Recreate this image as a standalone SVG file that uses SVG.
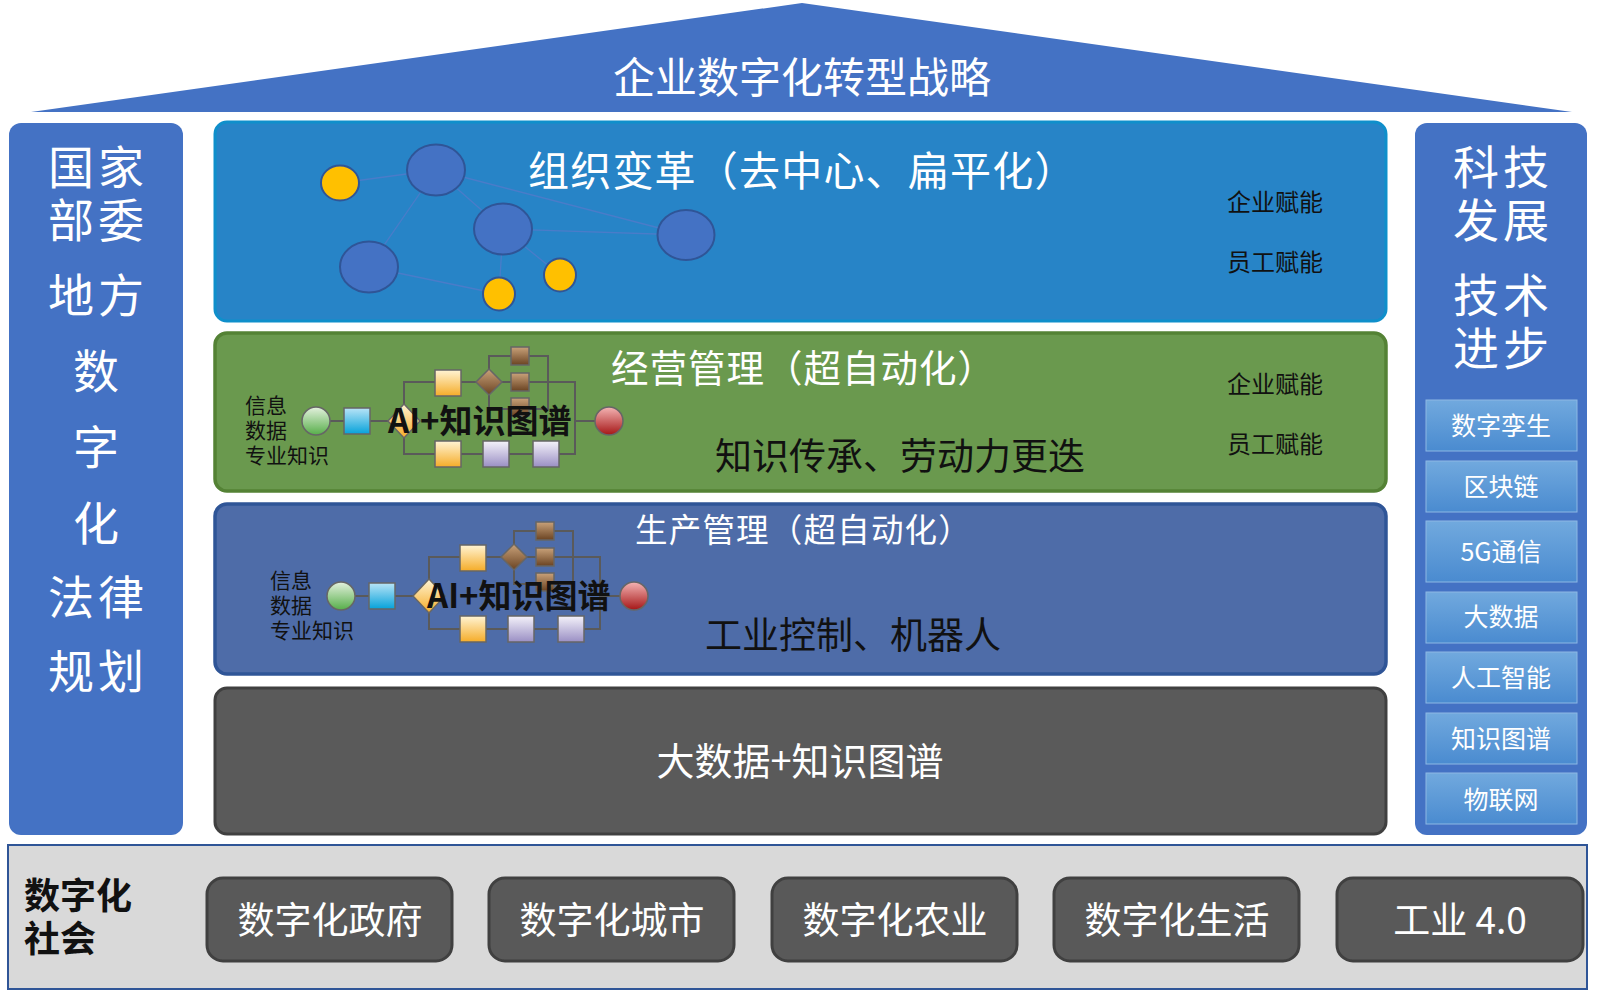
<svg xmlns="http://www.w3.org/2000/svg" width="1597" height="991" viewBox="0 0 1597 991">
<style>
text{font-family:"Noto Sans CJK SC","Noto Sans",sans-serif}
.w{fill:#fff}
.k{fill:#111}
.b{font-weight:700}
.fl{fill:none;stroke:#5a5a5a;stroke-width:2}
.sh{stroke:#666;stroke-width:1.5}
.net{stroke:#4A7CC9;stroke-width:1.3;fill:none}
.bc{fill:#4472C4;stroke:#2F5597;stroke-width:2}
.yc{fill:#FFC000;stroke:#2F5597;stroke-width:2}
.tech{fill:url(#gTech);stroke:#8DB8E4;stroke-width:1}
.btn{fill:#595959;stroke:#404040;stroke-width:3}
</style>
<defs>
<linearGradient id="gGreen" x1="0" y1="0" x2="0" y2="1"><stop offset="0" stop-color="#E4F1DE"/><stop offset="1" stop-color="#56AE49"/></linearGradient>
<linearGradient id="gBlue" x1="0" y1="0" x2="0" y2="1"><stop offset="0" stop-color="#B8E4F7"/><stop offset="1" stop-color="#06A2DA"/></linearGradient>
<linearGradient id="gOrange" x1="0" y1="0" x2="0" y2="1"><stop offset="0" stop-color="#FFF4D4"/><stop offset="1" stop-color="#F5AC28"/></linearGradient>
<linearGradient id="gBrown" x1="0" y1="0" x2="0" y2="1"><stop offset="0" stop-color="#C9A27A"/><stop offset="1" stop-color="#6A4322"/></linearGradient>
<linearGradient id="gLav" x1="0" y1="0" x2="0" y2="1"><stop offset="0" stop-color="#F4F2FA"/><stop offset="1" stop-color="#9A8FC4"/></linearGradient>
<linearGradient id="gRed" x1="0" y1="0" x2="0" y2="1"><stop offset="0" stop-color="#F4B4B4"/><stop offset="1" stop-color="#A51616"/></linearGradient>
<linearGradient id="gTech" x1="0" y1="0" x2="0" y2="1"><stop offset="0" stop-color="#71A9DE"/><stop offset="1" stop-color="#4A8BD0"/></linearGradient>
<g id="flow">
  <path class="fl" d="M14,0H28M54,0H72M88,-17V-39H259V33H88V17M173,-52V-65H232V-12H173V-26M259,0H279"/>
  <circle class="sh" cx="0" cy="0" r="14" fill="url(#gGreen)"/>
  <rect class="sh" x="28" y="-13" width="26" height="26" fill="url(#gBlue)"/>
  <polygon class="sh" points="88,-17 104,0 88,17 72,0" fill="url(#gOrange)"/>
  <rect class="sh" x="119" y="-51" width="26" height="26" fill="url(#gOrange)"/>
  <polygon class="sh" points="173,-52 186,-39 173,-26 160,-39" fill="url(#gBrown)"/>
  <rect class="sh" x="195" y="-74" width="18" height="18" fill="url(#gBrown)"/>
  <rect class="sh" x="195" y="-48" width="18" height="18" fill="url(#gBrown)"/>
  <rect class="sh" x="195" y="-23" width="18" height="18" fill="url(#gBrown)"/>
  <rect class="sh" x="119" y="20" width="26" height="26" fill="url(#gOrange)"/>
  <rect class="sh" x="167" y="20" width="26" height="26" fill="url(#gLav)"/>
  <rect class="sh" x="217" y="20" width="26" height="26" fill="url(#gLav)"/>
  <circle class="sh" cx="293" cy="0" r="14" fill="url(#gRed)"/>
  <text class="k" x="-71" y="-8" font-size="21">信息</text>
  <text class="k" x="-71" y="17" font-size="21">数据</text>
  <text class="k" x="-71" y="42" font-size="21">专业知识</text>
</g>
</defs>

<g id="roof">
  <polygon points="31,112 802,3 1572,112" fill="#4472C4"/>
  <text class="w" x="802" y="93" font-size="42" text-anchor="middle">企业数字化转型战略</text>
</g>

<g id="left-col">
  <rect x="9" y="123" width="174" height="712" rx="12" fill="#4472C4"/>
  <g class="w" font-size="46" text-anchor="middle">
    <text x="98" y="184" letter-spacing="4">国家</text>
    <text x="98" y="237" letter-spacing="4">部委</text>
    <text x="98" y="312" letter-spacing="4">地方</text>
    <text x="96" y="388">数</text>
    <text x="96" y="464">字</text>
    <text x="96" y="540">化</text>
    <text x="98" y="614" letter-spacing="4">法律</text>
    <text x="98" y="688" letter-spacing="4">规划</text>
  </g>
</g>

<g id="right-col">
  <rect x="1415" y="123" width="172" height="712" rx="12" fill="#4472C4"/>
  <g class="w" font-size="46" text-anchor="middle">
    <text x="1503" y="184" letter-spacing="4">科技</text>
    <text x="1503" y="237" letter-spacing="4">发展</text>
    <text x="1503" y="312" letter-spacing="4">技术</text>
    <text x="1503" y="365" letter-spacing="4">进步</text>
  </g>
</g>
<g id="tech-digital-twin"><rect class="tech" x="1426" y="400" width="151" height="51"/><text class="w" x="1501" y="435" font-size="25" text-anchor="middle">数字孪生</text></g>
<g id="tech-blockchain"><rect class="tech" x="1426" y="461" width="151" height="51"/><text class="w" x="1501" y="496" font-size="25" text-anchor="middle">区块链</text></g>
<g id="tech-5g"><rect class="tech" x="1426" y="521" width="151" height="61"/><text class="w" x="1501" y="561" font-size="25" text-anchor="middle">5G通信</text></g>
<g id="tech-bigdata"><rect class="tech" x="1426" y="592" width="151" height="51"/><text class="w" x="1501" y="626" font-size="25" text-anchor="middle">大数据</text></g>
<g id="tech-ai"><rect class="tech" x="1426" y="652" width="151" height="51"/><text class="w" x="1501" y="687" font-size="25" text-anchor="middle">人工智能</text></g>
<g id="tech-kg"><rect class="tech" x="1426" y="713" width="151" height="51"/><text class="w" x="1501" y="748" font-size="25" text-anchor="middle">知识图谱</text></g>
<g id="tech-iot"><rect class="tech" x="1426" y="773" width="151" height="51"/><text class="w" x="1501" y="809" font-size="25" text-anchor="middle">物联网</text></g>

<g id="layer-org">
  <rect x="215" y="122" width="1171" height="199" rx="12" fill="#2784C7" stroke="#0F8FCB" stroke-width="3"/>
  <text class="w" x="528" y="186" font-size="41" letter-spacing="1.2">组织变革（去中心、扁平化）</text>
  <text class="k" x="1227" y="211" font-size="24">企业赋能</text>
  <text class="k" x="1227" y="271" font-size="24">员工赋能</text>
</g>

<g id="connectors">
  <path class="net" d="M340,183L436,170M436,170L503,229M436,170L369,267M436,170L686,235M503,229L686,235M503,229L499,294M503,229L560,275M369,267L499,294"/>
</g>
<g id="org-nodes">
  <ellipse class="yc" cx="340" cy="183" rx="19" ry="17.5"/>
  <ellipse class="bc" cx="436" cy="170" rx="29" ry="25.5"/>
  <ellipse class="bc" cx="503" cy="229" rx="29" ry="25.5"/>
  <ellipse class="bc" cx="369" cy="267" rx="29" ry="25.5"/>
  <ellipse class="bc" cx="686" cy="235" rx="28.5" ry="25"/>
  <ellipse class="yc" cx="499" cy="294" rx="16" ry="16.5"/>
  <ellipse class="yc" cx="560" cy="275" rx="16" ry="16.5"/>
</g>

<g id="layer-ops">
  <rect x="215" y="333" width="1171" height="158" rx="12" fill="#6A994E" stroke="#548235" stroke-width="3.5"/>
  <text class="w" x="611" y="382" font-size="37.5" letter-spacing="1">经营管理（超自动化）</text>
  <text class="k" x="900" y="470" font-size="37" text-anchor="middle">知识传承、劳动力更迭</text>
  <text class="k" x="1227" y="393" font-size="24">企业赋能</text>
  <text class="k" x="1227" y="453" font-size="24">员工赋能</text>
  <use href="#flow" x="316" y="421"/>
  <text class="k b" x="388" y="433" font-size="33">AI+知识图谱</text>
</g>

<g id="layer-prod">
  <rect x="215" y="504" width="1171" height="170" rx="12" fill="#4E6CA8" stroke="#2F5597" stroke-width="3.5"/>
  <text class="w" x="635" y="542" font-size="32.5" letter-spacing="1.2">生产管理（超自动化）</text>
  <text class="k" x="853" y="649" font-size="37" text-anchor="middle">工业控制、机器人</text>
  <use href="#flow" x="341" y="596"/>
  <text class="k b" x="427" y="608" font-size="33">AI+知识图谱</text>
</g>

<g id="layer-data">
  <rect x="215" y="688" width="1171" height="146" rx="12" fill="#5A5A5A" stroke="#404040" stroke-width="3"/>
  <text class="w" x="800" y="775" font-size="38" text-anchor="middle">大数据+知识图谱</text>
</g>

<g id="society">
  <rect x="8" y="845" width="1579" height="144" fill="#D9D9D9" stroke="#2F5597" stroke-width="2"/>
  <text class="k b" x="24" y="909" font-size="36">数字化</text>
  <text class="k b" x="24" y="952" font-size="36">社会</text>
</g>
<g id="soc-gov"><rect class="btn" x="207" y="878" width="245" height="83" rx="16"/><text class="w" x="330" y="934" font-size="37" text-anchor="middle">数字化政府</text></g>
<g id="soc-city"><rect class="btn" x="489" y="878" width="245" height="83" rx="16"/><text class="w" x="612" y="934" font-size="37" text-anchor="middle">数字化城市</text></g>
<g id="soc-agri"><rect class="btn" x="772" y="878" width="245" height="83" rx="16"/><text class="w" x="895" y="934" font-size="37" text-anchor="middle">数字化农业</text></g>
<g id="soc-life"><rect class="btn" x="1054" y="878" width="245" height="83" rx="16"/><text class="w" x="1177" y="934" font-size="37" text-anchor="middle">数字化生活</text></g>
<g id="soc-ind"><rect class="btn" x="1337" y="878" width="246" height="83" rx="16"/><text class="w" x="1460" y="934" font-size="37" text-anchor="middle">工业 4.0</text></g>
</svg>
